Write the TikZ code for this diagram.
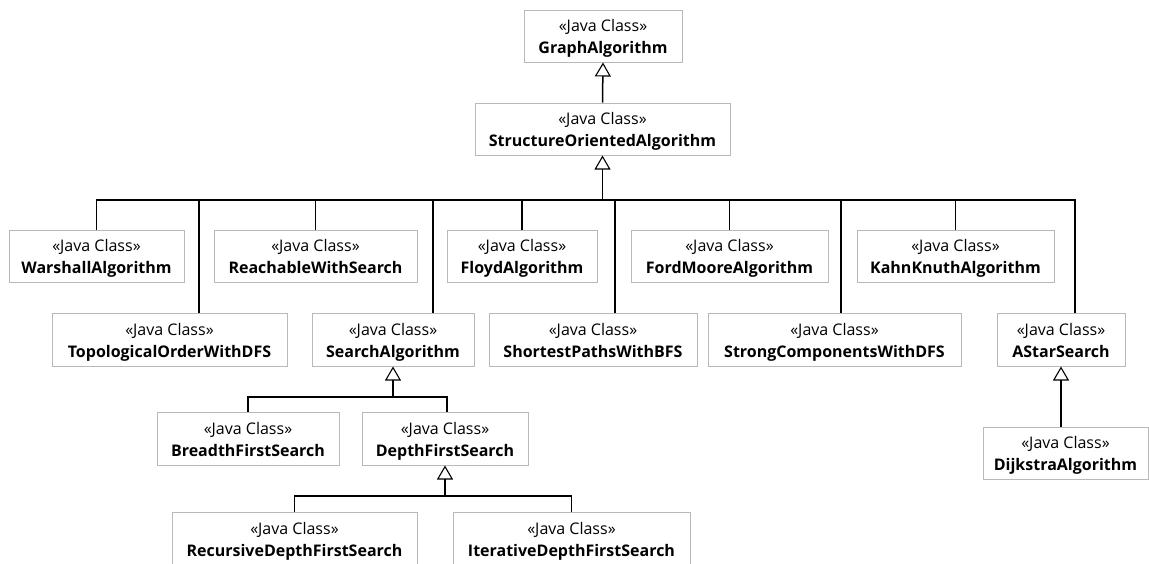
\documentclass[tikz,border=0pt]{standalone}
\usepackage{fontspec}
\setmainfont{Open Sans}
\usetikzlibrary{arrows.meta}
\definecolor{boxgray}{RGB}{185,185,185}
\tikzset{
  cls/.style={draw=boxgray, line width=1pt, fill=white, inner sep=0pt},
  clstext/.style={align=center, inner sep=0pt, font=\fontsize{16}{22}\selectfont},
  link/.style={line width=1.5pt},
  gen/.style={line width=1.5pt, -{Triangle[open, length=14pt, width=16pt, line width=1.1pt]}},
}
% class box given by left, top, right, bottom edges, with its two-line label
\newcommand\classbox[6]{%
  \pgfmathsetmacro\cw{#4-#2}\pgfmathsetmacro\ch{#5-#3}%
  \node[cls, minimum width=\cw pt, minimum height=\ch pt] (#1)
    at ({(#2+#4)/2},{(#3+#5)/2}) {};
  \node[clstext] (#1-label) at ([yshift=-2.5]#1.center)
    {«Java Class»\\\textbf{#6}\vphantom{Jgy}};}
\begin{document}
\begin{tikzpicture}[x=1pt, y=-1pt]
\useasboundingbox (0,0) rectangle (1149,563);

\classbox{graph}{524}{10}{682}{62}{GraphAlgorithm}
\classbox{soa}{475}{103}{730}{155}{StructureOrientedAlgorithm}

\classbox{warshall}{9}{230}{184}{282}{WarshallAlgorithm}
\classbox{reach}{214}{230}{417}{282}{ReachableWithSearch}
\classbox{floyd}{447}{230}{597}{282}{FloydAlgorithm}
\classbox{fordmoore}{631}{230}{828}{282}{FordMooreAlgorithm}
\classbox{kahn}{857}{230}{1054}{282}{KahnKnuthAlgorithm}

\classbox{topo}{52}{313}{287}{366}{TopologicalOrderWithDFS}
\classbox{search}{312}{313}{474}{366}{SearchAlgorithm}
\classbox{shortest}{489}{313}{697}{366}{ShortestPathsWithBFS}
\classbox{strong}{708}{313}{961}{366}{StrongComponentsWithDFS}
\classbox{astar}{997}{313}{1125}{366}{AStarSearch}

\classbox{bfs}{157}{412}{339}{465}{BreadthFirstSearch}
\classbox{dfs}{362}{412}{528}{465}{DepthFirstSearch}
\classbox{dijkstra}{983}{427}{1148}{479}{DijkstraAlgorithm}

\classbox{recdfs}{172}{512}{417}{565}{RecursiveDepthFirstSearch}
\classbox{iterdfs}{453}{512}{690}{565}{IterativeDepthFirstSearch}

% junction points of the shared generalization lines
\coordinate (hubsoa) at (602.5,200);
\coordinate (hubsearch) at (393,397);
\coordinate (hubdfs) at (445,496);

% StructureOrientedAlgorithm subclasses
\draw[link] (warshall.north) |- (hubsoa);
\draw[link] (reach.north) |- (hubsoa);
\draw[link] (floyd.north) |- (hubsoa);
\draw[link] (fordmoore.north) |- (hubsoa);
\draw[link] (kahn.north) |- (hubsoa);
\draw[link] ([xshift=29.5]topo.north) |- (hubsoa);
\draw[link] ([xshift=40]search.north) |- (hubsoa);
\draw[link] ([xshift=22]shortest.north) |- (hubsoa);
\draw[link] ([xshift=6.5]strong.north) |- (hubsoa);
\draw[link] ([xshift=14]astar.north) |- (hubsoa);
\draw[gen] (hubsoa) -- (soa.south);

\draw[gen] (soa.north) -- (graph.south);

% SearchAlgorithm subclasses
\draw[link] (bfs.north) |- (hubsearch);
\draw[link] ([xshift=2]dfs.north) |- (hubsearch);
\draw[gen] (hubsearch) -- (search.south);

% DepthFirstSearch subclasses
\draw[link] (recdfs.north) |- (hubdfs);
\draw[link] (iterdfs.north) |- (hubdfs);
\draw[gen] (hubdfs) -- (dfs.south);

% AStarSearch subclass
\draw[gen] (astar.south |- dijkstra.north) -- (astar.south);
\end{tikzpicture}
\end{document}
